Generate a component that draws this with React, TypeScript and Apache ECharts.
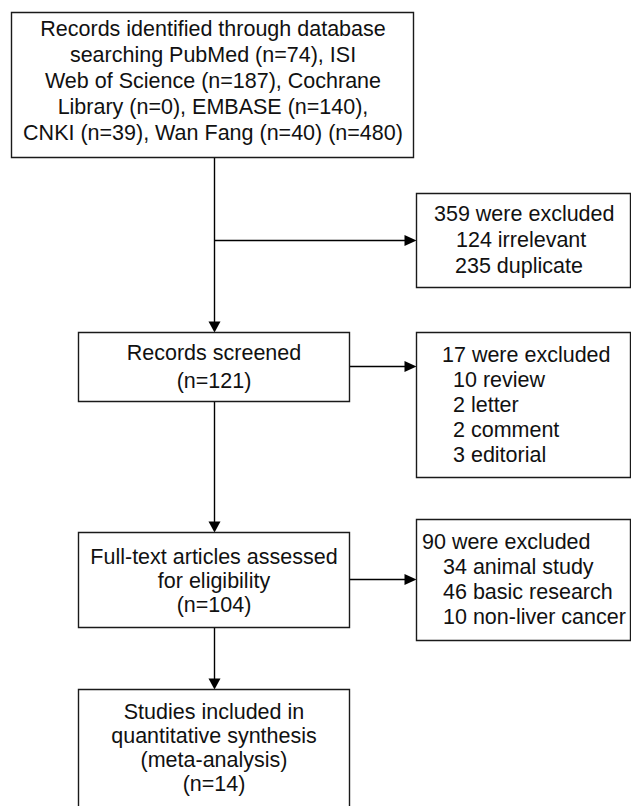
import React, { useEffect, useRef } from "react";
import * as echarts from "echarts";

// ---- Data (texts of the flow diagram) ----
const identifiedLines = [
  "Records identified through database",
  "searching PubMed (n=74), ISI",
  "Web of Science (n=187), Cochrane",
  "Library (n=0), EMBASE (n=140),",
  "CNKI (n=39), Wan Fang (n=40) (n=480)",
];
const screenedLines = ["Records screened", "(n=121)"];
const fullTextLines = ["Full-text articles assessed", "for eligibility", "(n=104)"];
const includedLines = ["Studies included in", "quantitative synthesis", "(meta-analysis)", "(n=14)"];
const excluded1Lines = ["359 were excluded", "124 irrelevant", "235 duplicate"];
const excluded2Lines = ["17 were excluded", "10 review", "2 letter", "2 comment", "3 editorial"];
const excluded3Lines = ["90 were excluded", "34 animal study", "46 basic research", "10 non-liver cancer"];

// ---- Layout ----
const W = 631;
const H = 806;
const FONT = "21.5px 'Liberation Sans', Arial, sans-serif";
const TRUNK_X = 214;
const STROKE = "#1a1a1a";

type Box = { x: number; y: number; w: number; h: number };
const boxTop: Box = { x: 11, y: 12, w: 402, h: 145 };
const boxScreened: Box = { x: 78, y: 332, w: 271, h: 69 };
const boxFull: Box = { x: 78, y: 532, w: 271, h: 95 };
const boxIncl: Box = { x: 78, y: 689, w: 271, h: 130 };
const boxEx1: Box = { x: 416, y: 193, w: 214, h: 94 };
const boxEx2: Box = { x: 416, y: 332, w: 214, h: 145 };
const boxEx3: Box = { x: 416, y: 519, w: 214, h: 121 };

function rect(b: Box) {
  return {
    type: "rect",
    shape: { x: b.x + 0.5, y: b.y + 0.5, width: b.w, height: b.h },
    style: { fill: "#fff", stroke: STROKE, lineWidth: 1.4 },
  };
}

function textLines(lines: string[], xs: number[] | number, y0: number, step: number, align: string) {
  return lines.map((t, i) => ({
    type: "text",
    style: {
      text: t,
      x: Array.isArray(xs) ? xs[i] : xs,
      y: y0 + i * step,
      font: FONT,
      fill: "#111",
      align,
      textAlign: align,
      verticalAlign: "middle",
      textVerticalAlign: "middle",
    },
  }));
}

function line(x1: number, y1: number, x2: number, y2: number) {
  return {
    type: "line",
    shape: { x1, y1, x2, y2 },
    style: { stroke: "#000", lineWidth: 1.4 },
  };
}

function arrowDown(x: number, tipY: number) {
  return {
    type: "polygon",
    shape: { points: [[x - 6, tipY - 11], [x + 6, tipY - 11], [x, tipY]] },
    style: { fill: "#000" },
  };
}

function arrowRight(tipX: number, y: number) {
  return {
    type: "polygon",
    shape: { points: [[tipX - 12, y - 5.5], [tipX - 12, y + 5.5], [tipX, y]] },
    style: { fill: "#000" },
  };
}

export default function App() {
  const ref = useRef<HTMLDivElement>(null);
  useEffect(() => {
    document.body.style.margin = "0";
    if (!ref.current) return;
    const chart = echarts.init(ref.current, undefined, { renderer: "svg" });
    const tx = TRUNK_X + 0.5;
    const elements: any[] = [
      // connectors
      line(tx, boxTop.y + boxTop.h, tx, boxScreened.y - 10),
      arrowDown(tx, boxScreened.y + 0.5),
      line(tx, 240.5, boxEx1.x - 11, 240.5),
      arrowRight(boxEx1.x + 0.5, 240.5),
      line(boxScreened.x + boxScreened.w, 366.5, boxEx2.x - 11, 366.5),
      arrowRight(boxEx2.x + 0.5, 366.5),
      line(tx, boxScreened.y + boxScreened.h, tx, boxFull.y - 10),
      arrowDown(tx, boxFull.y + 0.5),
      line(boxFull.x + boxFull.w, 579.5, boxEx3.x - 11, 579.5),
      arrowRight(boxEx3.x + 0.5, 579.5),
      line(tx, boxFull.y + boxFull.h, tx, boxIncl.y - 10),
      arrowDown(tx, boxIncl.y + 0.5),
      // boxes
      rect(boxTop),
      rect(boxScreened),
      rect(boxFull),
      rect(boxIncl),
      rect(boxEx1),
      rect(boxEx2),
      rect(boxEx3),
      // texts
      ...textLines(identifiedLines, 213, 29, 26, "center"),
      ...textLines(screenedLines, 214, 353, 28, "center"),
      ...textLines(fullTextLines, 214, 557, 24, "center"),
      ...textLines(includedLines, 214, 712, 24, "center"),
      ...textLines(excluded1Lines, [434, 456, 455], 214, 26, "left"),
      ...textLines(excluded2Lines, [442, 453, 453, 453, 453], 355, 25, "left"),
      ...textLines(excluded3Lines, [422, 443, 443, 443], 542, 25, "left"),
    ];
    chart.setOption({ animation: false, graphic: { elements } });
    return () => chart.dispose();
  }, []);
  return <div ref={ref} style={{ width: W, height: H }} />;
}
